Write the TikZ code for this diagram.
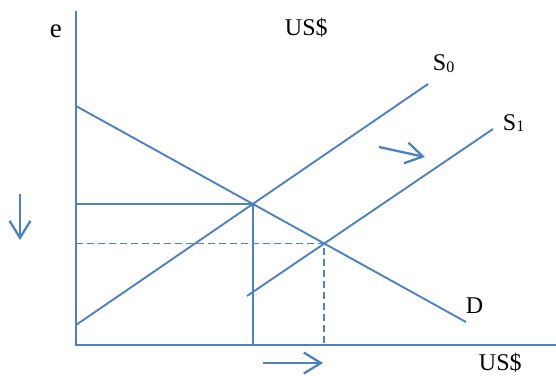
\documentclass[tikz,border=0pt]{standalone}
\usepackage{fontspec}
\setmainfont{Liberation Serif}
\usetikzlibrary{arrows.meta}
\definecolor{lineblue}{HTML}{4F81BD}

\begin{document}
\begin{tikzpicture}[x=1pt,y=-1pt,line width=1.9pt,
  lbl/.style={anchor=base west,inner sep=0pt,font=\fontsize{24}{28}\selectfont},
  shiftarrow/.style={draw=lineblue,line width=2.3pt,-{Straight Barb[length=17pt,width=21pt]}}]
\useasboundingbox (0,0) rectangle (556,375);
% axes
\coordinate (O) at (76,345);
\coordinate (ytop) at (76,11);
\coordinate (xend) at (556,345);
\draw[lineblue] (ytop) -- (O) -- (xend);
% demand and supply
\coordinate (d0) at (76,106);   \coordinate (d1) at (466,322);
\coordinate (s00) at (76,325);  \coordinate (s01) at (428,84);
\coordinate (s10) at (247,296); \coordinate (s11) at (493,129);
\draw[lineblue] (d0) -- (d1);
\draw[lineblue] (s00) -- (s01);
\draw[lineblue] (s10) -- (s11);
\coordinate (E0) at (intersection of d0--d1 and s00--s01);
\coordinate (E1) at (intersection of d0--d1 and s10--s11);
\draw[lineblue] (O |- E0) -- (E0) -- (E0 |- O);
\draw[lineblue,dash pattern=on 7pt off 4pt] (O |- E1) -- (E1) -- (E1 |- O);
% labels
\node[lbl,font=\fontsize{27}{30}\selectfont] (e) at (49,37) {e};
\node[lbl] (ustop) at (284,35) {US\$};
\node[lbl] (usbot) at (478,370) {US\$};
\node[lbl] (S0) at (432,70) {S\raisebox{-2pt}{\fontsize{16}{16}\selectfont 0}};
\node[lbl] (S1) at (502,130) {S\raisebox{-1pt}{\fontsize{16}{16}\selectfont 1}};
\node[lbl] (D) at (465,313) {D};
% shifts
\coordinate (a0) at (20,194); \coordinate (a1) at (20,240);
\coordinate (b0) at (263,363); \coordinate (b1) at (323,363);
\coordinate (c0) at (379,147); \coordinate (c1) at (425,157);
\draw[shiftarrow] (a0) -- (a1);
\draw[shiftarrow] (b0) -- (b1);
\draw[shiftarrow] (c0) -- (c1);
\end{tikzpicture}
\end{document}
